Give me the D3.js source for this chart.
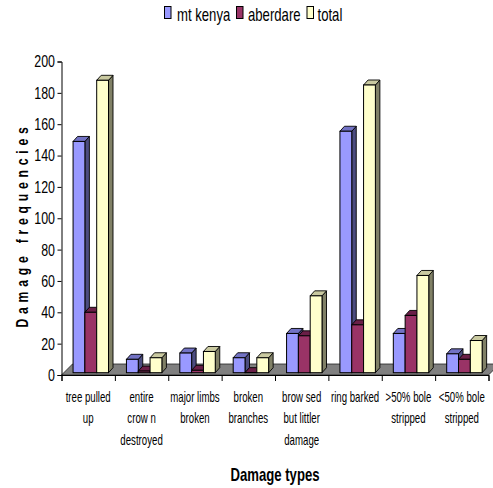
<!DOCTYPE html>
<html>
<head>
<meta charset="utf-8">
<script src="https://cdn.jsdelivr.net/npm/d3@7"></script>
<style>
    html, body { margin: 0; padding: 0; background: #fff; }
    svg { display: block; }
    text { font-family: "Liberation Sans", sans-serif; fill: #000; }
</style>
</head>
<body>
<div id="svgDiv"></div>
<script>
    var categories = [
        ["tree pulled", "up"],
        ["entire", "crow n", "destroyed"],
        ["major limbs", "broken"],
        ["broken", "branches"],
        ["brow sed", "but littler", "damage"],
        ["ring barked"],
        [">50% bole", "stripped"],
        ["<50% bole", "stripped"]
    ];
    var seriesNames = ["mt kenya", "aberdare", "total"];
    var mtKenya = [149, 10, 14, 11, 26.5, 155.5, 26.5, 13.5];
    var aberdare = [40, 2.5, 3, 1.5, 25, 32, 38, 10];
    var total = [188, 11, 15, 11, 50.5, 185, 63.5, 22];
    var yTicks = [0, 20, 40, 60, 80, 100, 120, 140, 160, 180, 200];

    var width = 493, height = 488;
    var front = ["#9999ff", "#993366", "#ffffcc"];
    var top3d = ["#7272c4", "#6a1f47", "#c9c9a0"];
    var side = ["#4c4c80", "#4c1a33", "#808066"];
    var depthX = 4.5, depthY = 5;     // bar depth
    var floorX = 11, floorY = 11;     // floor depth
    var baseline = 372.7;

    var svg = d3.select("#svgDiv").append("svg")
        .attr("width", width)
        .attr("height", height);

    var y = d3.scaleLinear().domain([0, 200]).range([375, 61.5]);
    var idx = d3.range(categories.length);
    var x0 = d3.scaleBand().domain(idx).range([61.5, 488.5]).paddingInner(0.336).paddingOuter(0.168);
    var x1 = d3.scaleBand().domain(d3.range(3)).range([0, x0.bandwidth()]);
    var edge = d3.scaleLinear().domain([0, categories.length]).range([61.5, 488.5]);

    function pts(list) {
        return list.map(function (p) { return p.join(","); }).join(" ");
    }

    // no narrow font installed, so squeeze the text horizontally
    function narrowText(px, py, size, sx) {
        return svg.append("text")
            .attr("transform", "translate(" + px + "," + py + ") scale(" + sx + ",1)")
            .style("font-size", size + "px");
    }

    // Floor
    svg.append("polygon")
        .attr("points", pts([
            [edge(0), y(0)],
            [edge(0) + floorX, y(0) - floorY],
            [edge(8) + floorX, y(0) - floorY],
            [edge(8), y(0)]
        ]))
        .attr("fill", "#808080")
        .attr("stroke", "#222")
        .attr("stroke-width", 0.8);

    // Bars
    var shiftX = 2.6;
    [mtKenya, aberdare, total].forEach(function (values, s) {
        var g = svg.append("g").attr("class", "series-" + s);
        values.forEach(function (v, i) {
            var bx = x0(i) + x1(s) + shiftX;
            var bw = x1.bandwidth();
            var by = y(v);
            g.append("polygon")
                .attr("points", pts([[bx + bw, by], [bx + bw + depthX, by - depthY], [bx + bw + depthX, baseline - depthY], [bx + bw, baseline]]))
                .attr("fill", side[s]).attr("stroke", "#000").attr("stroke-width", 0.9).attr("stroke-linejoin", "round");
            g.append("polygon")
                .attr("points", pts([[bx, by], [bx + depthX, by - depthY], [bx + bw + depthX, by - depthY], [bx + bw, by]]))
                .attr("fill", top3d[s]).attr("stroke", "#000").attr("stroke-width", 0.9).attr("stroke-linejoin", "round");
            g.append("rect")
                .attr("x", bx).attr("y", by)
                .attr("width", bw).attr("height", baseline - by)
                .attr("fill", front[s]).attr("stroke", "#000").attr("stroke-width", 1);
        });
    });

    // Axes
    var axisY = svg.append("g")
        .attr("transform", "translate(61.5,0)")
        .call(d3.axisLeft(y).tickValues(yTicks).tickSize(4).tickPadding(2).tickFormat(d3.format("d")));
    axisY.selectAll("text")
        .style("font-size", "17px")
        .attr("transform", "scale(0.73,1)")
        .attr("x", -9);
    var axisX = svg.append("g")
        .attr("transform", "translate(0,375)")
        .call(d3.axisBottom(edge).ticks(8).tickSize(6).tickFormat(""));
    svg.selectAll(".domain, .tick line").attr("stroke", "#000").attr("stroke-width", 1);

    // Category labels
    categories.forEach(function (lines, i) {
        lines.forEach(function (line, k) {
            narrowText((edge(i) + edge(i + 1)) / 2, 401.5 + k * 21.5, 14, 0.69)
                .attr("text-anchor", "middle")
                .text(line);
        });
    });

    // Titles
    svg.append("text")
        .attr("transform", "translate(28,225) rotate(-90) scale(0.72,1)")
        .attr("text-anchor", "middle")
        .style("font-size", "17px")
        .style("font-weight", "bold")
        .style("letter-spacing", "6.6px")
        .text("Damage frequencies");
    narrowText(275, 481, 18, 0.73)
        .attr("text-anchor", "middle")
        .style("font-weight", "bold")
        .text("Damage types");

    // Legend
    var legendSwatch = [164, 236, 306.5];
    var legendText = [177, 248, 317.5];
    seriesNames.forEach(function (name, s) {
        svg.append("rect")
            .attr("x", legendSwatch[s] + 0.5).attr("y", 6.5)
            .attr("width", 6.5).attr("height", 12)
            .attr("fill", front[s]).attr("stroke", "#000").attr("stroke-width", 1);
        narrowText(legendText[s], 20.5, 18, 0.73)
            .text(name);
    });
</script>
</body>
</html>
